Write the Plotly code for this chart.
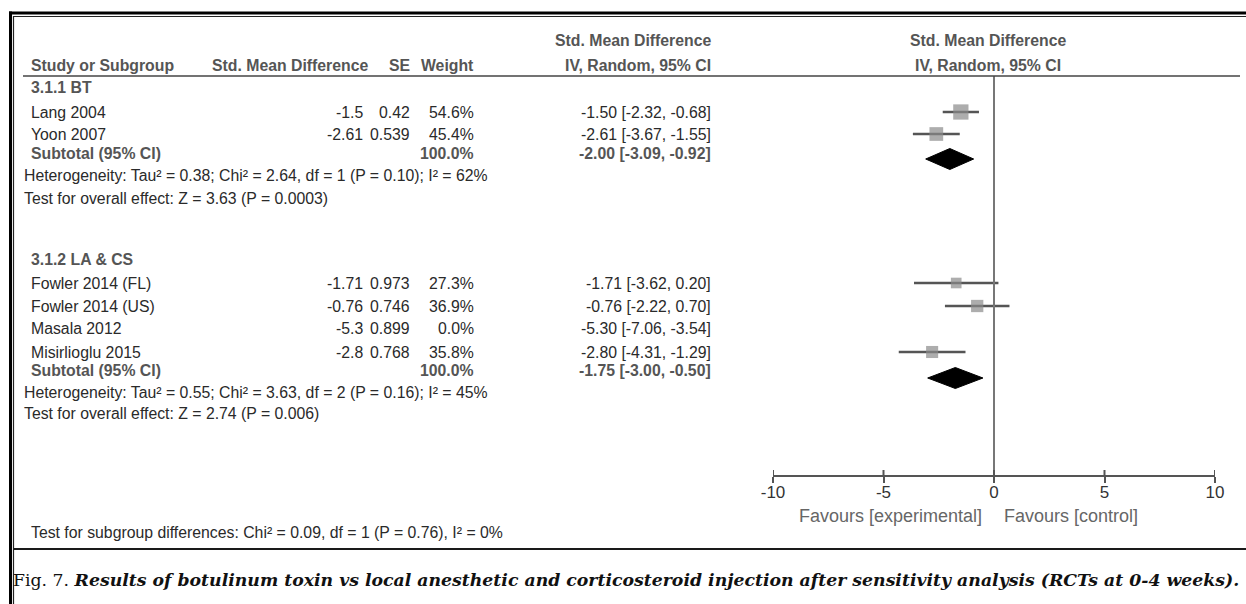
import plotly.graph_objects as go

W, H = 1246, 604

# ---------------- data ----------------
group_labels = ["3.1.1 BT", "3.1.2 LA & CS"]
studies = [["Lang 2004", "Yoon 2007"],
           ["Fowler 2014 (FL)", "Fowler 2014 (US)", "Masala 2012", "Misirlioglu 2015"]]
smd = [[-1.5, -2.61], [-1.71, -0.76, -5.3, -2.8]]
smd_txt = [["-1.5", "-2.61"], ["-1.71", "-0.76", "-5.3", "-2.8"]]
se_txt = [["0.42", "0.539"], ["0.973", "0.746", "0.899", "0.768"]]
weight = [[54.6, 45.4], [27.3, 36.9, 0.0, 35.8]]
ci_lo = [[-2.32, -3.67], [-3.62, -2.22, -7.06, -4.31]]
ci_hi = [[-0.68, -1.55], [0.20, 0.70, -3.54, -1.29]]
sub_est = [-2.00, -1.75]
sub_lo = [-3.09, -3.00]
sub_hi = [-0.92, -0.50]
heterogeneity = ["Heterogeneity: Tau² = 0.38; Chi² = 2.64, df = 1 (P = 0.10); I² = 62%",
                 "Heterogeneity: Tau² = 0.55; Chi² = 3.63, df = 2 (P = 0.16); I² = 45%"]
overall = ["Test for overall effect: Z = 3.63 (P = 0.0003)",
           "Test for overall effect: Z = 2.74 (P = 0.006)"]
subgroup_test = "Test for subgroup differences: Chi² = 0.09, df = 1 (P = 0.76), I² = 0%"
tick_vals = [-10, -5, 0, 5, 10]
tick_text = ["-10", "-5", "0", "5", "10"]
favours_left = "Favours [experimental]"
favours_right = "Favours [control]"
caption_lead = "Fig. 7."
caption_body = ("Results of botulinum toxin vs local anesthetic and corticosteroid injection "
                "after sensitivity analysis (RCTs at 0-4 weeks).")

# ---------------- layout (pixel positions) ----------------
ROW_Y = {
    "h1": 41, "h2": 65, "hline": 76,
    "groups": [
        {"label": 88, "rows": [112, 134], "sub": 153, "dia": 159, "het": 176, "test": 198},
        {"label": 259, "rows": [283, 306, 329, 352], "sub": 370, "dia": 378, "het": 392, "test": 414},
    ],
    "axis": 476, "subgroup": 532, "sep": 549, "caption": 580,
}
COL = {"study": 30, "note": 23, "smd_hdr": 211, "smd": 364, "se": 411, "wt": 475, "ci": 712,
       "forest_hdr": 988}
PLOT_X0, PLOT_X1 = 773, 1215
FONT = "Liberation Sans, Arial, sans-serif"
FS = 15.8
TXT = "#2a2a2a"
HDR = "#555555"

fig = go.Figure()

def px(x):
    return x / W

def py(y):
    return 1 - y / H

ann = []

def text(x, y, s, anchor="left", color=TXT, bold=False, size=FS, family=FONT):
    if bold:
        s = "<b>" + s + "</b>"
    ann.append(dict(x=px(x), y=py(y), xref="paper", yref="paper", text=s, showarrow=False,
                    xanchor=anchor, yanchor="middle", borderpad=0,
                    font=dict(family=family, size=size, color=color)))

# headers
text(COL["ci"], ROW_Y["h1"], "Std. Mean Difference", "right", HDR, True)
text(COL["forest_hdr"], ROW_Y["h1"], "Std. Mean Difference", "center", HDR, True)
text(COL["study"], ROW_Y["h2"], "Study or Subgroup", "left", HDR, True)
text(COL["smd_hdr"], ROW_Y["h2"], "Std. Mean Difference", "left", HDR, True)
text(COL["se"], ROW_Y["h2"], "SE", "right", HDR, True)
text(COL["wt"], ROW_Y["h2"], "Weight", "right", HDR, True)
text(COL["ci"], ROW_Y["h2"], "IV, Random, 95% CI", "right", HDR, True)
text(COL["forest_hdr"], ROW_Y["h2"], "IV, Random, 95% CI", "center", HDR, True)

sq_x, sq_y, sq_s = [], [], []
ln_x, ln_y = [], []
for g in range(2):
    G = ROW_Y["groups"][g]
    text(COL["study"], G["label"], group_labels[g], "left", HDR, True)
    for i, name in enumerate(studies[g]):
        y = G["rows"][i]
        text(COL["study"], y, name)
        text(COL["smd"], y, smd_txt[g][i], "right")
        text(COL["se"], y, se_txt[g][i], "right")
        text(COL["wt"], y, f"{weight[g][i]:.1f}%", "right")
        text(COL["ci"], y, f"{smd[g][i]:.2f} [{ci_lo[g][i]:.2f}, {ci_hi[g][i]:.2f}]", "right")
        if weight[g][i] > 0:
            ln_x += [ci_lo[g][i], ci_hi[g][i], None]
            ln_y += [y, y, None]
            sq_x.append(smd[g][i])
            sq_y.append(y)
            sq_s.append(6 + weight[g][i] * 0.17)
    text(COL["study"], G["sub"], "Subtotal (95% CI)", "left", HDR, True)
    text(COL["wt"], G["sub"], "100.0%", "right", HDR, True)
    text(COL["ci"], G["sub"], f"{sub_est[g]:.2f} [{sub_lo[g]:.2f}, {sub_hi[g]:.2f}]", "right", HDR, True)
    text(COL["note"], G["het"], heterogeneity[g])
    text(COL["note"], G["test"], overall[g])
    d = G["dia"]
    fig.add_trace(go.Scatter(x=[sub_lo[g], sub_est[g], sub_hi[g], sub_est[g], sub_lo[g]],
                             y=[d, d - 10.5, d, d + 10.5, d], mode="lines", fill="toself",
                             fillcolor="#000000", line=dict(color="#000000", width=1),
                             hoverinfo="skip", showlegend=False))

fig.add_trace(go.Scatter(x=ln_x, y=ln_y, mode="lines", line=dict(color="#555555", width=2.4),
                         hoverinfo="skip", showlegend=False))
fig.add_trace(go.Scatter(x=sq_x, y=sq_y, mode="markers",
                         marker=dict(symbol="square", size=sq_s, color="#8a8a8a", line=dict(width=0)),
                         hoverinfo="skip", showlegend=False))

text(COL["study"], ROW_Y["subgroup"], subgroup_test)
text(983, ROW_Y["axis"] + 40, favours_left, "right", "#666666", size=18)
text(1003, ROW_Y["axis"] + 40, favours_right, "left", "#666666", size=18)

ann.append(dict(x=px(12), y=py(ROW_Y["caption"]), xref="paper", yref="paper",
                text=caption_lead + " <b><i>" + caption_body + "</i></b>", showarrow=False,
                xanchor="left", yanchor="middle", borderpad=0,
                font=dict(family="DejaVu Serif, Liberation Serif, serif", size=17.3, color="#111111")))

shapes = []
# zero line
shapes.append(dict(type="line", xref="x", yref="y", x0=0, x1=0, y0=ROW_Y["hline"], y1=ROW_Y["axis"],
                   line=dict(color="#777777", width=2)))
# upper tick halves
for t in tick_vals:
    shapes.append(dict(type="line", xref="x", yref="y", x0=t, x1=t, y0=ROW_Y["axis"] - 6,
                       y1=ROW_Y["axis"], line=dict(color="#555555", width=2)))
# header rule
shapes.append(dict(type="line", xref="paper", yref="paper", x0=px(23), x1=px(1240),
                   y0=py(ROW_Y["hline"]), y1=py(ROW_Y["hline"]), line=dict(color="#444444", width=1.5)))
# frame
shapes.append(dict(type="line", xref="paper", yref="paper", x0=px(10.5), x1=px(10.5), y0=py(11.5), y1=0,
                   line=dict(color="#000000", width=3)))
shapes.append(dict(type="line", xref="paper", yref="paper", x0=px(9), x1=1, y0=py(13), y1=py(13),
                   line=dict(color="#000000", width=3)))
shapes.append(dict(type="line", xref="paper", yref="paper", x0=px(13.5), x1=px(13.5), y0=py(16), y1=0,
                   line=dict(color="#222222", width=1.2)))
shapes.append(dict(type="line", xref="paper", yref="paper", x0=px(13.5), x1=1, y0=py(16.5), y1=py(16.5),
                   line=dict(color="#222222", width=1.2)))
shapes.append(dict(type="line", xref="paper", yref="paper", x0=px(13.5), x1=1, y0=py(ROW_Y["sep"]),
                   y1=py(ROW_Y["sep"]), line=dict(color="#1a1a1a", width=2)))

fig.update_layout(
    width=W, height=H, margin=dict(l=0, r=0, t=0, b=0, pad=0, autoexpand=False),
    paper_bgcolor="white", plot_bgcolor="rgba(0,0,0,0)",
    annotations=ann, shapes=shapes,
    xaxis=dict(domain=[px(PLOT_X0), px(PLOT_X1)], range=[-10, 10], anchor="free",
               position=py(ROW_Y["axis"]), showgrid=False, zeroline=False, automargin=False,
               showline=True, linecolor="#555555", linewidth=2,
               ticks="outside", ticklen=6, tickwidth=2, tickcolor="#555555",
               tickvals=tick_vals, ticktext=tick_text, ticklabelstandoff=-5,
               tickfont=dict(family=FONT, size=17, color="#333333"), fixedrange=True),
    yaxis=dict(domain=[0, 1], range=[H, 0], visible=False, fixedrange=True, automargin=False),
)

fig.write_html("out.html",
               post_script="document.body.style.margin='0';document.body.style.overflow='hidden';")
